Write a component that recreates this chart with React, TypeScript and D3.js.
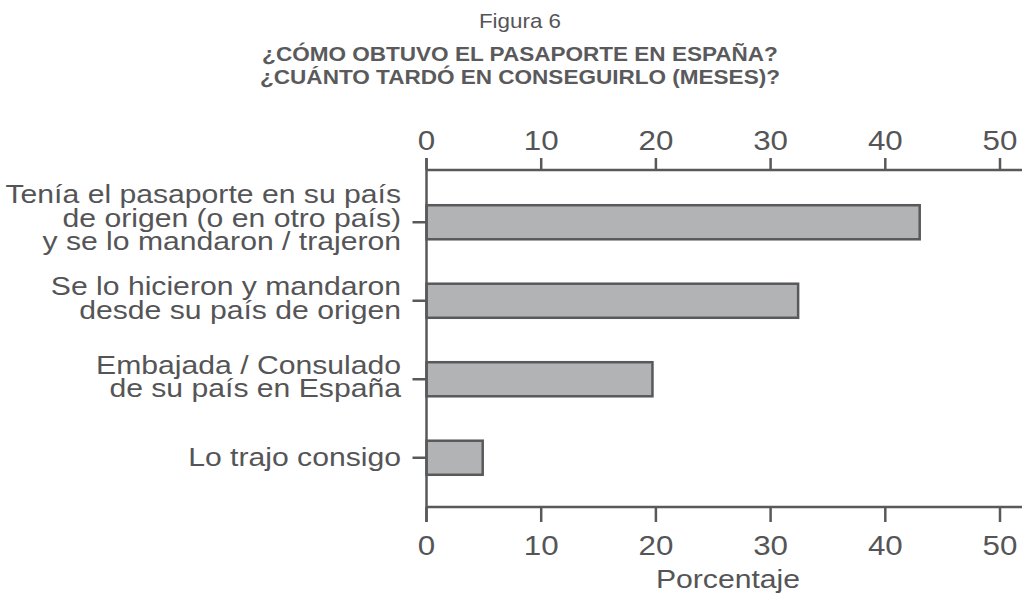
import React from "react";
import * as d3 from "d3";

const categories: string[][] = [
  ["Tenía el pasaporte en su país", "de origen (o en otro país)", "y se lo mandaron / trajeron"],
  ["Se lo hicieron y mandaron", "desde su país de origen"],
  ["Embajada / Consulado", "de su país en España"],
  ["Lo trajo consigo"],
];
const values: number[] = [43, 32.4, 19.7, 4.9];
const tickValues: number[] = [0, 10, 20, 30, 40, 50];
const figureLabel = "Figura 6";
const titleLines: string[] = [
  "¿CÓMO OBTUVO EL PASAPORTE EN ESPAÑA?",
  "¿CUÁNTO TARDÓ EN CONSEGUIRLO (MESES)?",
];
const xAxisTitle = "Porcentaje";

const W = 1022;
const H = 595;
const SX = 1.16;
const FONT = "'Liberation Sans', Arial, Helvetica, sans-serif";
const TEXT = "#555557";
const LINE = "#58595b";
const FILL = "#b2b3b5";

export default function App() {
  const x = d3.scaleLinear().domain([0, 50]).range([426.5, 1000]);
  const y = d3
    .scaleBand<number>()
    .domain(d3.range(categories.length))
    .range([183, 497])
    .paddingInner(0.566)
    .paddingOuter(0.283);
  const top = 170;
  const bottom = 507;
  const T = (tx: number, ty: number, s: number = SX) => `translate(${tx},${ty}) scale(${s},1)`;
  const lineH = 23.5;

  return (
    <svg
      width={W}
      height={H}
      style={{ position: "absolute", left: 0, top: 0, display: "block", background: "#fff" }}
      fontFamily={FONT}
    >
      {/* titles */}
      <text transform={T(520, 28, 1.12)} textAnchor="middle" fontSize={20} fill={TEXT}>
        {figureLabel}
      </text>
      {titleLines.map((t, i) => (
        <text key={i} transform={T(520, 61 + i * 23, 1.1)} textAnchor="middle" fontSize={20.5} fontWeight="bold" fill="#5a5a5c">
          {t}
        </text>
      ))}

      {/* bars */}
      {values.map((v, i) => (
        <rect
          key={i}
          x={x(0)}
          y={y(i)!}
          width={x(v) - x(0)}
          height={y.bandwidth()}
          fill={FILL}
          stroke={LINE}
          strokeWidth={2.5}
        />
      ))}

      {/* axes lines */}
      <line x1={x(0)} x2={W} y1={top} y2={top} stroke={LINE} strokeWidth={2.5} />
      <line x1={x(0)} x2={W} y1={bottom} y2={bottom} stroke={LINE} strokeWidth={2.5} />
      <line x1={x(0)} x2={x(0)} y1={top - 12} y2={bottom + 15} stroke={LINE} strokeWidth={2.5} />

      {tickValues.map((t) => (
        <g key={t}>
          <line x1={x(t)} x2={x(t)} y1={top} y2={top - 12} stroke={LINE} strokeWidth={2.5} />
          <line x1={x(t)} x2={x(t)} y1={bottom} y2={bottom + 15} stroke={LINE} strokeWidth={2.5} />
          <text transform={T(x(t), 150)} textAnchor="middle" fontSize={27} fill={TEXT}>
            {t}
          </text>
          <text transform={T(x(t), 555)} textAnchor="middle" fontSize={27} fill={TEXT}>
            {t}
          </text>
        </g>
      ))}

      {/* category ticks and labels */}
      {categories.map((lines, i) => {
        const c = y(i)! + y.bandwidth() / 2;
        const first = c + 8 - 13.5 * (lines.length - 1);
        return (
          <g key={i}>
            <line x1={x(0) - 14} x2={x(0)} y1={c} y2={c} stroke={LINE} strokeWidth={2.5} />
            {lines.map((l, j) => (
              <text key={j} transform={T(401, first + j * lineH)} textAnchor="end" fontSize={26} fill={TEXT}>
                {l}
              </text>
            ))}
          </g>
        );
      })}

      <text transform={T(728, 588)} textAnchor="middle" fontSize={26} fill={TEXT}>
        {xAxisTitle}
      </text>
    </svg>
  );
}
